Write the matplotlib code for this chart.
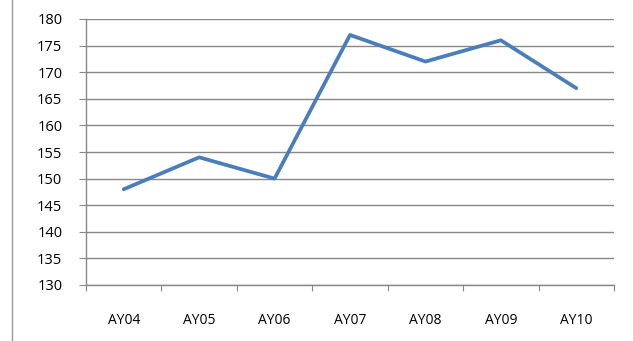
import matplotlib.pyplot as plt
from matplotlib.lines import Line2D

categories = ["AY04", "AY05", "AY06", "AY07", "AY08", "AY09", "AY10"]
values = [148, 154, 150, 177, 172, 176, 167]
y_ticks = [130, 135, 140, 145, 150, 155, 160, 165, 170, 175, 180]

W, H = 633, 341
fig = plt.figure(figsize=(W / 100, H / 100), dpi=100)
plt.rcParams['font.family'] = ['Open Sans', 'DejaVu Sans']

# axes area in pixels: x 86..614, y 19..285
ax = fig.add_axes([86 / W, 1 - 285 / H, (614 - 86) / W, (285 - 19) / H])

x = [i + 0.5 for i in range(len(categories))]
ax.plot(x, values, color='#4A7EBB', linewidth=2.7, solid_capstyle='round')

ax.set_xlim(0, len(categories))
ax.set_ylim(130, 180)
ax.set_yticks(y_ticks)
ax.set_yticklabels([str(v) for v in y_ticks], fontsize=10.5)
ax.set_xticks(range(len(categories) + 1))
ax.set_xticklabels([])
ax.set_xticks(x, minor=True)
ax.set_xticklabels(categories, minor=True, fontsize=10)
ax.tick_params(axis='x', which='minor', length=0, pad=20)
ax.tick_params(axis='x', which='major', length=4, color='#888888', direction='out')
ax.tick_params(axis='y', length=5, color='#888888', pad=12)

ax.grid(axis='y', color='#888888', linewidth=1)
ax.set_axisbelow(True)
for side in ['top', 'right']:
    ax.spines[side].set_visible(False)
for side in ['left', 'bottom']:
    ax.spines[side].set_color('#888888')
    ax.spines[side].set_linewidth(1)

# left border of the chart frame
fig.add_artist(Line2D([12 / W, 12 / W], [0, 1], color='#999999', linewidth=1))

fig.savefig('out.png', dpi=100, facecolor='white')
